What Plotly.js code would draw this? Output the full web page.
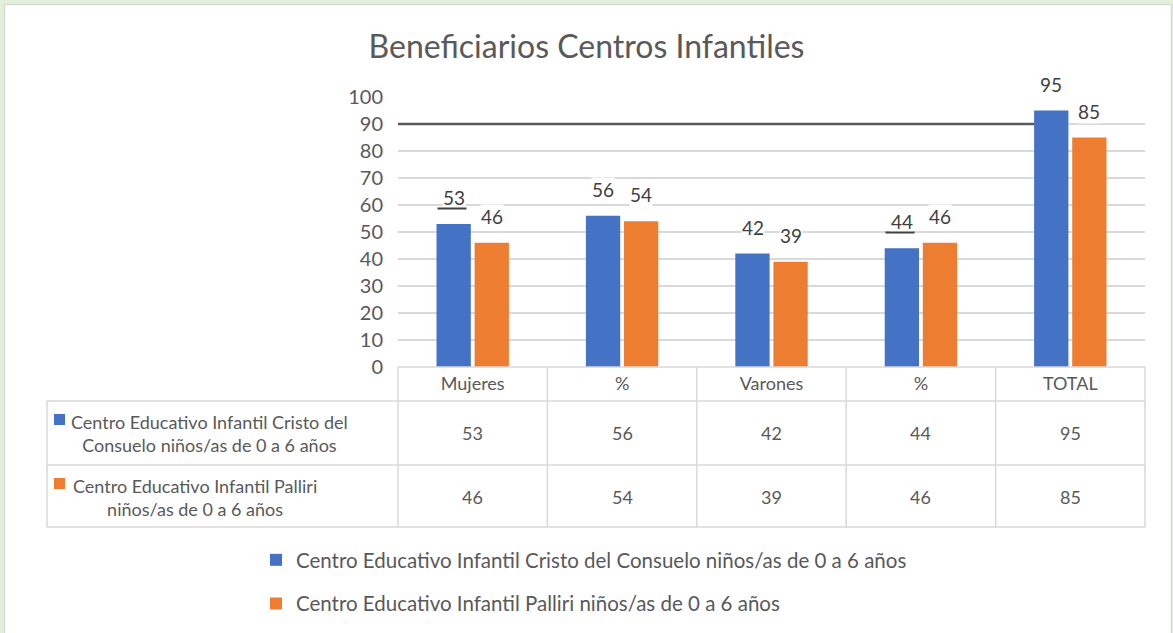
<!DOCTYPE html>
<html>
<head>
<meta charset="utf-8">
<script src="https://cdn.plot.ly/plotly-3.0.1.min.js"></script>
<style>html,body{margin:0;padding:0;background:#fff;}#chart{width:1173px;height:633px;}</style>
</head>
<body>
<div id="chart"></div>
<script>
const categories = ["Mujeres", "%", "Varones", "% ", "TOTAL"];
const tickLabels = ["Mujeres", "%", "Varones", "%", "TOTAL"];
const seriesNames = [
  "Centro Educativo Infantil Cristo del Consuelo niños/as de 0 a 6 años",
  "Centro Educativo Infantil Palliri niños/as de 0 a 6 años"
];
const rowHeaders = [
  "Centro Educativo Infantil Cristo del<br>Consuelo niños/as de 0 a 6 años",
  "Centro Educativo Infantil Palliri<br>niños/as de 0 a 6 años"
];
const cristoValues = [53, 56, 42, 44, 95];
const palliriValues = [46, 54, 39, 46, 85];
const colors = ["#4472c4", "#ed7d31"];

const W = 1173, H = 633;
const M = {l: 398, r: 28, t: 97, b: 266, autoexpand: false};
const PW = W - M.l - M.r, PH = H - M.t - M.b;
const px = x => (x - M.l) / PW;
const py = y => (H - M.b - y) / PH;

const FONT = "Lato, 'Open Sans', sans-serif";
const grey = "#595959";
const lineCol = "#d9d9d9";

const allSeries = [cristoValues, palliriValues];
const traces = allSeries.map((vals, i) => ({
  type: "bar",
  x: categories,
  y: vals,
  name: seriesNames[i],
  legendgroup: "g" + i,
  marker: {color: colors[i]},
  cliponaxis: false,
  hoverinfo: "none"
}));

const shapes = [];
// frame
shapes.push({type: "rect", xref: "paper", yref: "paper", layer: "below",
  x0: px(4.5), x1: px(1171.5), y0: py(700), y1: py(4.5),
  fillcolor: "#ffffff", line: {color: "#d9d9d9", width: 1.5}});
// table lines
const colBounds = [0, 1, 2, 3, 4, 5].map(i => i / categories.length);
const rowY = [367, 401, 465, 527];
colBounds.forEach(cx => shapes.push({type: "line", xref: "paper", yref: "paper",
  x0: cx, x1: cx, y0: py(367), y1: py(527), line: {color: lineCol, width: 1.5}}));
shapes.push({type: "line", xref: "paper", yref: "paper",
  x0: px(47), x1: px(47), y0: py(401), y1: py(527), line: {color: lineCol, width: 1.5}});
rowY.slice(1).forEach(yy => shapes.push({type: "line", xref: "paper", yref: "paper",
  x0: px(47), x1: 1, y0: py(yy), y1: py(yy), line: {color: lineCol, width: 1.5}}));
shapes.push({type: "line", xref: "paper", yref: "paper",
  x0: 0, x1: 1, y0: 0, y1: 0, line: {color: lineCol, width: 1.5}});
// dark line at 90
shapes.push({type: "line", xref: "x", yref: "y", layer: "between",
  x0: -0.5, x1: 3.98, y0: 90, y1: 90, line: {color: "#595959", width: 2.5}});
// row header squares
[[414, 54], [478, 54]].forEach((p, i) => shapes.push({type: "rect", xref: "paper", yref: "paper",
  x0: px(p[1]), x1: px(p[1] + 11), y0: py(p[0] + 11), y1: py(p[0]),
  fillcolor: colors[i], line: {width: 0}}));

const annotations = [];
// bar value labels (via axis scales, shifted to each bar of the group)
const barShift = [-19, 19];
const underlined = [[true, false, false, true, false], [false, false, false, false, false]];
allSeries.forEach((vals, s) => vals.forEach((v, c) => annotations.push({
  xref: "x", yref: "y", x: categories[c], y: v, xshift: barShift[s], yshift: 14,
  text: String(v), showarrow: false, xanchor: "center", yanchor: "bottom",
  font: {family: FONT, size: 19, color: "#404040"},
  bgcolor: "#ffffff", borderpad: 0
})));
// underline artefacts under two labels
allSeries.forEach((vals, s) => vals.forEach((v, c) => {
  if (underlined[s][c]) annotations.push({
    xref: "x", yref: "y", x: categories[c], y: v, xshift: barShift[s] - 2, yshift: 14,
    text: "", showarrow: false, xanchor: "center", yanchor: "bottom",
    width: 28, height: 1, bgcolor: "#404040", borderpad: 0
  });
}));
const rowCenters = [433, 497];
allSeries.forEach((vals, r) => {
  vals.forEach((v, c) => annotations.push({
    xref: "x", yref: "paper", x: categories[c], y: py(rowCenters[r]),
    text: String(v), showarrow: false, xanchor: "center", yanchor: "middle",
    font: {family: FONT, size: 18, color: grey}
  }));
});
const headerCenters = [209, 195];
rowHeaders.forEach((t, r) => annotations.push({
  xref: "paper", yref: "paper", x: px(headerCenters[r]), y: py(rowCenters[r]),
  text: t, showarrow: false, xanchor: "center", yanchor: "middle", align: "center",
  font: {family: FONT, size: 18, color: grey}
}));

const layout = {
  width: W, height: H,
  margin: M,
  paper_bgcolor: "#e2efda",
  plot_bgcolor: "#ffffff",
  title: {text: "Beneficiarios Centros Infantiles", x: 0.5, xref: "container",
    y: 1 - 47 / H, yref: "container", yanchor: "middle",
    font: {family: FONT, size: 32, color: grey}},
  barmode: "group",
  bargap: 0.49,
  bargroupgap: 0.1,
  xaxis: {type: "category", range: [-0.5, 4.5], showgrid: false, zeroline: false,
    showline: false, ticks: "", tickvals: categories, ticktext: tickLabels, ticklabelstandoff: 4,
    tickfont: {family: FONT, size: 18, color: grey}, fixedrange: true, automargin: false},
  yaxis: {range: [0, 100], dtick: 10, showgrid: true, gridcolor: lineCol, gridwidth: 1.5,
    zeroline: false, showline: false, ticks: "", ticklabelstandoff: 14,
    tickfont: {family: FONT, size: 20, color: grey}, fixedrange: true, automargin: false},
  showlegend: true,
  legend: {orientation: "v", xref: "container", yref: "container",
    x: 256 / W, xanchor: "left", y: 1 - 540 / H, yanchor: "top",
    traceorder: "grouped", tracegroupgap: 14,
    font: {family: FONT, size: 20.5, color: grey}, bgcolor: "rgba(0,0,0,0)"},
  shapes: shapes,
  annotations: annotations
};

Plotly.newPlot("chart", traces, layout, {displayModeBar: false, staticPlot: true});
</script>
</body>
</html>
